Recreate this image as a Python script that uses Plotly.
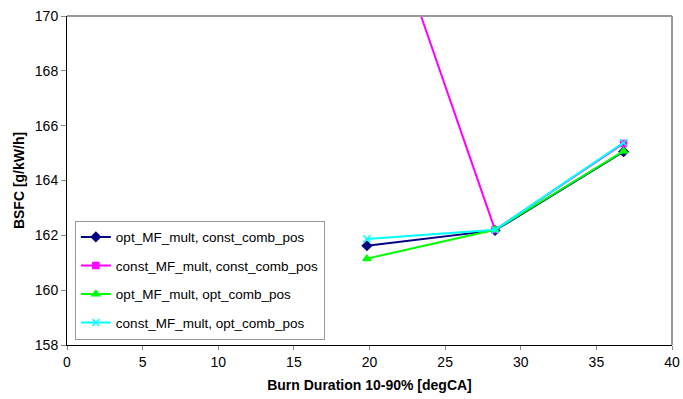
import plotly.graph_objects as go

burn = [19.83, 28.3, 36.8]
opt_mf_const = [161.62, 162.18, 165.05]
const_mf_const = [175.7, 162.2, 165.35]
opt_mf_opt = [161.15, 162.2, 165.07]
const_mf_opt = [161.87, 162.2, 165.38]

series = [
    ("opt_MF_mult, const_comb_pos", opt_mf_const, "#000080", "diamond", 7),
    ("const_MF_mult, const_comb_pos", const_mf_const, "#FF00FF", "square", 6),
    ("opt_MF_mult, opt_comb_pos", opt_mf_opt, "#00FF00", "triangle-up", 7),
    ("const_MF_mult, opt_comb_pos", const_mf_opt, "#00FFFF", "x-thin", 7),
]

fig = go.Figure()
for i, (name, ys, col, sym, sz) in enumerate(series):
    fig.add_trace(go.Scatter(
        x=burn, y=ys, name=name, mode="lines+markers", legendgroup=f"g{i}",
        line=dict(color=col, width=2),
        marker=dict(symbol=sym, size=sz, color=col, line=dict(color=col, width=1.5)),
        cliponaxis=True,
    ))

fig.update_layout(
    width=683, height=399,
    margin=dict(l=67, r=11, t=16, b=54),
    paper_bgcolor="white", plot_bgcolor="white",
    font=dict(family="Liberation Sans, Arial, sans-serif", size=14, color="black"),
    showlegend=True,
    legend=dict(
        x=0.013, y=0.378, xanchor="left", yanchor="top",
        bordercolor="#999999", borderwidth=1, bgcolor="white",
        font=dict(size=13.5), tracegroupgap=8, itemwidth=30,
    ),
    xaxis=dict(
        range=[0, 40], tickvals=[0, 5, 10, 15, 20, 25, 30, 35, 40],
        showgrid=False, zeroline=False, automargin=False,
        showline=True, linecolor="black", linewidth=1,
        ticks="outside", ticklen=4, tickcolor="#888888",
        ticklabeloverflow="allow",
        title=dict(text="<b>Burn Duration 10-90% [degCA]</b>", font=dict(size=14), standoff=11),
    ),
    yaxis=dict(
        range=[158, 170], tickvals=[158, 160, 162, 164, 166, 168, 170],
        showgrid=False, zeroline=False, automargin=False,
        showline=True, linecolor="black", linewidth=1,
        ticks="outside", ticklen=5, tickcolor="#888888",
        ticklabeloverflow="allow",
        title=dict(text="<b>BSFC [g/kW/h]</b>", font=dict(size=14), standoff=6),
    ),
)

fig.add_shape(type="line", xref="paper", yref="paper", x0=0, x1=1, y0=1, y1=1,
              line=dict(color="#999999", width=2))
fig.add_shape(type="line", xref="paper", yref="paper", x0=1, x1=1, y0=0, y1=1,
              line=dict(color="#999999", width=2))

fig.write_html(
    "out.html",
    config={"displayModeBar": False},
    post_script="document.body.style.margin='0';document.body.style.overflow='hidden';",
)
